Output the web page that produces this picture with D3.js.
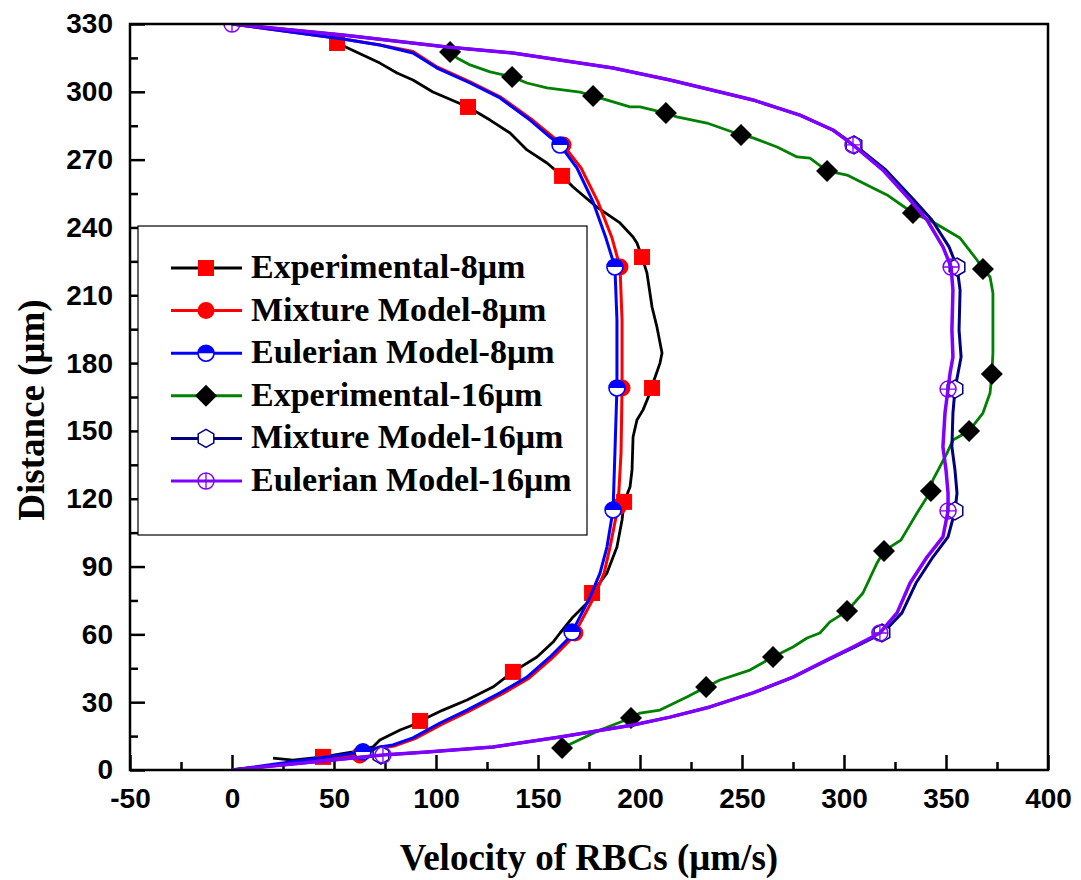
<!DOCTYPE html>
<meta charset="utf-8">
<style>
body { margin: 0; background: #fff; }
.tick text { font-family: "Liberation Sans", Arial, sans-serif; font-weight: bold; font-size: 28px; fill: #000; }
.tick line { stroke: #000; stroke-width: 2.5px; }
.title { font-family: "Liberation Serif", "Times New Roman", serif; font-weight: bold; }
.legend text { font-family: "Liberation Serif", "Times New Roman", serif; font-weight: bold; font-size: 34px; }
</style>
<body>
<script src="https://d3js.org/d3.v7.min.js"></script>
<script>

// velocity (um/s), distance (um) pairs
let exp8Line = [[51.5,321.6],[66.2,315.4],[72.5,312.7],[80.9,308.3],[88.7,305.2],[98.5,299.9],[105.4,297.3],
    [115.7,293.3],[126.5,287.5],[136.3,281.8],[144.6,274.3],[154.4,268.5],[161.8,262.8],[167.2,257.9],
    [178.9,249.0],[190.2,242.0],[196.6,235.8],[198.5,233.1],[201.0,226.9],[203.4,219.9],[205.9,204.8],
    [208.3,196.0],[210.8,184.5],[209.8,180.0],[206.4,171.2],[205.9,169.0],[201.5,159.3],[198.5,154.8],
    [196.6,147.3],[196.1,132.7],[195.1,125.2],[192.2,118.6],[191.2,110.6],[188.7,98.6],[183.8,87.1],
    [176.5,78.3],[175.5,75.2],[167.2,67.7],[160.8,60.6],[157.4,56.6],[149.5,50.0],[137.7,43.4],
    [127.9,36.7],[115.2,31.0],[103.4,26.5],[92.2,21.7],[88.7,19.9],[82.4,17.7],[72.5,13.3],[69.1,10.2],
    [59.3,8.0],[44.6,5.8],[29.9,4.4],[20.1,5.3]];
let exp8Marks = [[51.5,321.6],[115.7,293.3],[161.8,262.8],[201.0,226.9],[205.9,169.0],[192.2,118.6],
    [176.5,78.3],[137.7,43.4],[92.2,21.7],[44.6,5.8]];

let mix8Line = [[0,330],[54.4,323.4],[72.5,320.7],[88.7,317.8],[100.5,311.0],[116.7,304.4],[131.4,297.8],
    [146.6,288.0],[156.9,280.4],[162.3,276.5],[171.1,266.3],[179.4,251.3],[186.3,235.3],[190.2,222.5],
    [191.2,199.1],[191.2,169.0],[190.7,140.2],[189.2,116.3],[185.3,98.6],[182.4,87.1],[177.5,76.5],
    [168.1,60.6],[165.2,57.0],[156.9,49.5],[145.6,40.6],[132.4,33.6],[116.2,26.0],[103.0,20.3],
    [89.7,13.9],[79.4,10.6],[73.0,9.7],[62.7,6.6],[0,0]];
let mix8Marks = [[62.7,6.6],[168.1,60.6],[189.2,116.3],[191.2,169.0],[190.2,222.5],[162.3,276.5]];

let eul8Line = [[0,330],[54.4,323.4],[72.5,320.7],[88.7,317.2],[100.5,310.5],[116.7,303.9],[131.4,297.3],
    [146.1,287.5],[155.9,280.0],[160.8,276.5],[169.1,266.3],[177.0,251.3],[183.3,235.3],[187.7,222.5],
    [188.7,199.1],[188.7,169.0],[187.7,140.2],[186.8,115.0],[183.8,98.6],[180.4,87.1],[175.5,76.5],
    [166.7,61.0],[164.2,57.5],[155.9,50.0],[144.6,41.1],[131.4,34.1],[115.2,26.5],[102.0,20.8],
    [88.7,14.2],[78.9,11.1],[72.5,10.2],[64.2,8.0],[0,0]];
let eul8Marks = [[64.2,8.0],[166.7,61.0],[186.8,115.0],[188.7,169.0],[187.7,222.5],[160.8,276.5]];

let exp16Line = [[106.9,317.6],[110.3,315.0],[116.7,311.9],[126.5,308.8],[137.3,306.6],[144.6,303.9],
    [154.4,301.7],[170.6,299.9],[177.0,298.2],[195.1,293.3],[200.0,293.3],[212.7,290.6],[218.1,288.9],
    [232.8,286.2],[249.5,280.9],[255.4,279.6],[267.2,275.6],[277.0,271.2],[283.3,270.7],[291.7,265.0],
    [301.5,263.2],[314.2,257.5],[321.1,254.4],[333.8,246.4],[343.6,242.4],[356.9,235.3],[365.2,225.6],
    [368.1,221.6],[371.6,218.1],[373.0,211.0],[373.0,184.5],[372.5,175.2],[371.6,166.8],[368.1,157.9],
    [361.3,150.0],[353.4,146.0],[350.5,140.2],[343.6,128.3],[342.6,123.4],[335.8,113.7],[327.9,101.7],
    [319.6,96.9],[316.2,91.6],[309.3,78.3],[301.5,70.3],[293.1,65.5],[288.2,60.6],[281.9,58.4],
    [275.0,54.4],[265.2,50.0],[253.9,44.2],[239.2,39.8],[232.4,36.7],[223.0,32.3],[209.8,26.5],
    [200.0,25.2],[195.6,23.0],[180.4,17.7],[161.8,9.7]];
let exp16Marks = [[106.9,317.6],[137.3,306.6],[177.0,298.2],[212.7,290.6],[249.5,280.9],[291.7,265.0],
    [333.8,246.4],[368.1,221.6],[372.5,175.2],[361.3,150.0],[342.6,123.4],[319.6,96.9],[301.5,70.3],
    [265.2,50.0],[232.4,36.7],[195.6,23.0],[161.8,9.7]];

let mix16Line = [[0,330],[54.4,325.1],[105.4,319.8],[137.7,317.2],[186.8,310.5],[214.7,305.2],[239.2,299.9],
    [255.4,296.4],[278.4,289.7],[294.6,283.1],[305.2,276.5],[320.5,265.4],[334.3,252.1],[343.1,243.3],
    [351.5,231.4],[355.4,222.5],[356.9,212.3],[356.4,194.6],[357.4,182.7],[355.9,175.6],[354.4,168.5],
    [353.4,157.9],[352.9,142.9],[354.4,132.7],[355.4,122.5],[354.4,114.6],[351.0,103.1],[343.6,94.2],
    [335.3,82.7],[328.4,69.5],[319.1,60.6],[305.4,54.4],[292.2,48.7],[275.0,41.1],[255.4,34.1],
    [234.3,27.9],[214.7,23.4],[196.6,19.9],[160.8,14.6],[127.9,10.2],[95.6,8.0],[74.0,6.6],[0,0]];
let mix16Marks = [[73.0,6.6],[318.6,60.6],[354.4,114.6],[354.4,168.5],[355.4,222.5],[304.9,276.5]];

let eul16Line = [[0,330],[54.4,325.1],[105.4,319.8],[137.7,317.2],[186.8,310.5],[214.7,305.2],[239.2,299.9],
    [255.4,296.4],[278.4,289.7],[294.6,283.1],[304.4,276.5],[319.1,265.4],[332.4,252.1],[340.7,243.3],
    [348.5,231.4],[352.5,222.5],[353.4,212.3],[352.9,194.6],[353.4,182.7],[352.0,175.6],[351.0,168.5],
    [349.5,157.9],[348.5,142.9],[350.0,132.7],[351.0,122.5],[351.0,114.6],[348.5,103.1],[340.7,94.2],
    [332.4,82.7],[326.0,69.5],[317.6,60.6],[304.4,54.4],[291.7,48.7],[275.0,41.1],[255.4,34.1],
    [234.3,27.9],[214.7,23.4],[196.6,19.9],[160.8,14.6],[127.9,10.2],[95.6,8.0],[74.0,6.6],[0,0]];
let eul16Marks = [[0,330],[74.0,6.6],[317.6,60.6],[351.0,114.6],[351.0,168.5],[352.5,222.5],[304.4,276.5]];

let seriesNames = ["Experimental-8\u03bcm", "Mixture Model-8\u03bcm", "Eulerian Model-8\u03bcm",
    "Experimental-16\u03bcm", "Mixture Model-16\u03bcm", "Eulerian Model-16\u03bcm"];
let xTicks = [-50, 0, 50, 100, 150, 200, 250, 300, 350, 400];
let xMinor = [-25, 25, 75, 125, 175, 225, 275, 325, 375];
let yTicks = [0, 30, 60, 90, 120, 150, 180, 210, 240, 270, 300, 330];
let yMinor = [15, 45, 75, 105, 135, 165, 195, 225, 255, 285, 315];

let series = [
    {name: seriesNames[0], line: exp8Line, marks: exp8Marks, color: "#000000", lw: 2.8, marker: "square"},
    {name: seriesNames[1], line: mix8Line, marks: mix8Marks, color: "#ff0000", lw: 3, marker: "circle"},
    {name: seriesNames[2], line: eul8Line, marks: eul8Marks, color: "#0000ff", lw: 3, marker: "halfcircle"},
    {name: seriesNames[3], line: exp16Line, marks: exp16Marks, color: "#008000", lw: 2.8, marker: "diamond"},
    {name: seriesNames[4], line: mix16Line, marks: mix16Marks, color: "#000080", lw: 3, marker: "hexagon"},
    {name: seriesNames[5], line: eul16Line, marks: eul16Marks, color: "#8000ff", lw: 3.5, marker: "crosscircle"}
];

let W = 1081, H = 880;
let margin = {left: 130, right: 1048, top: 24, bottom: 770};

let svg = d3.select("body").append("svg")
    .attr("width", W)
    .attr("height", H)
    .style("background", "#fff");

let x = d3.scaleLinear().domain([-50, 400]).range([margin.left, margin.right]);
let y = d3.scaleLinear().domain([0, 330]).range([margin.bottom, margin.top]);

// axes (ticks pointing inward), plain hyphen for negatives
let gx = svg.append("g").attr("transform", "translate(0," + margin.bottom + ")")
    .call(d3.axisBottom(x).tickValues(xTicks).tickSize(-15).tickPadding(18)
        .tickFormat(function (d) { return String(d); }));
let gxm = svg.append("g").attr("transform", "translate(0," + margin.bottom + ")")
    .call(d3.axisBottom(x).tickValues(xMinor).tickSize(-8).tickFormat(""));
let gy = svg.append("g").attr("transform", "translate(" + margin.left + ",0)")
    .call(d3.axisLeft(y).tickValues(yTicks).tickSize(-15).tickPadding(17));
let gym = svg.append("g").attr("transform", "translate(" + margin.left + ",0)")
    .call(d3.axisLeft(y).tickValues(yMinor).tickSize(-8).tickFormat(""));
[gx, gxm, gy, gym].forEach(function (g) {
    g.select(".domain").remove();
    g.attr("font-size", null).attr("font-family", null);
});

// legend box (drawn before data)
let legend = svg.append("g").attr("class", "legend");
legend.append("rect")
    .attr("x", 138).attr("y", 226).attr("width", 449).attr("height", 309)
    .attr("fill", "#fff").attr("stroke", "#000").attr("stroke-width", 1.2);

svg.append("clipPath").attr("id", "plotclip")
    .append("rect")
    .attr("x", margin.left).attr("y", margin.top)
    .attr("width", margin.right - margin.left).attr("height", margin.bottom - margin.top);

let line = d3.line()
    .x(function (d) { return x(d[0]); })
    .y(function (d) { return y(d[1]); });

function drawMarker(g, type, color, cx, cy) {
    if (type === "square") {
        g.append("rect").attr("x", cx - 8).attr("y", cy - 8).attr("width", 16).attr("height", 16)
            .attr("fill", "#ff0000");
    } else if (type === "circle") {
        g.append("circle").attr("cx", cx).attr("cy", cy).attr("r", 8.5).attr("fill", color);
    } else if (type === "halfcircle") {
        let r = 8;
        g.append("circle").attr("cx", cx).attr("cy", cy).attr("r", r).attr("fill", "#fff");
        g.append("path")
            .attr("d", "M" + (cx - r) + "," + cy + " A" + r + "," + r + " 0 0 1 " + (cx + r) + "," + cy + " Z")
            .attr("fill", color);
        g.append("circle").attr("cx", cx).attr("cy", cy).attr("r", r)
            .attr("fill", "none").attr("stroke", color).attr("stroke-width", 1.6);
    } else if (type === "diamond") {
        let s = 11;
        g.append("path")
            .attr("d", "M" + cx + "," + (cy - s) + " L" + (cx + s) + "," + cy + " L" + cx + "," + (cy + s) +
                " L" + (cx - s) + "," + cy + " Z")
            .attr("fill", "#000");
    } else if (type === "hexagon") {
        let r = 9;
        let pts = d3.range(6).map(function (i) {
            let a = Math.PI / 3 * i - Math.PI / 2;
            return [cx + r * Math.cos(a), cy + r * Math.sin(a)];
        });
        g.append("path").attr("d", "M" + pts.join("L") + "Z")
            .attr("fill", "#fff").attr("stroke", color).attr("stroke-width", 1.5);
    } else if (type === "crosscircle") {
        let r = 8;
        g.append("circle").attr("cx", cx).attr("cy", cy).attr("r", r)
            .attr("fill", "none").attr("stroke", color).attr("stroke-width", 1.5);
        g.append("path")
            .attr("d", "M" + (cx - r) + "," + cy + "H" + (cx + r) + "M" + cx + "," + (cy - r) + "V" + (cy + r))
            .attr("stroke", color).attr("stroke-width", 1.3);
    }
}

let plot = svg.append("g").attr("clip-path", "url(#plotclip)");
series.forEach(function (s) {
    let g = plot.append("g");
    g.append("path")
        .datum(s.line)
        .attr("fill", "none")
        .attr("stroke", s.color)
        .attr("stroke-width", s.lw)
        .attr("stroke-linejoin", "round")
        .attr("d", line);
    s.marks.forEach(function (d) {
        drawMarker(g, s.marker, s.color, x(d[0]), y(d[1]));
    });
});

// frame
svg.append("rect")
    .attr("x", margin.left).attr("y", margin.top)
    .attr("width", margin.right - margin.left).attr("height", margin.bottom - margin.top)
    .attr("fill", "none").attr("stroke", "#000").attr("stroke-width", 2.5);

// legend entries
series.forEach(function (s, i) {
    let ry = 268 + i * 42.6;
    let g = legend.append("g");
    g.append("line").attr("x1", 171).attr("x2", 242).attr("y1", ry).attr("y2", ry)
        .attr("stroke", s.color).attr("stroke-width", 3);
    drawMarker(g, s.marker, s.color, 206, ry);
    g.append("text").attr("x", 251).attr("y", ry + 10).text(s.name);
});

// axis titles
svg.append("text").attr("class", "title")
    .attr("x", 589).attr("y", 870)
    .attr("text-anchor", "middle")
    .attr("font-size", 37)
    .text("Velocity of RBCs (\u03bcm/s)");
svg.append("text").attr("class", "title")
    .attr("transform", "translate(44,410) rotate(-90)")
    .attr("text-anchor", "middle")
    .attr("font-size", 37)
    .text("Distance (\u03bcm)");

</script>
</body>
